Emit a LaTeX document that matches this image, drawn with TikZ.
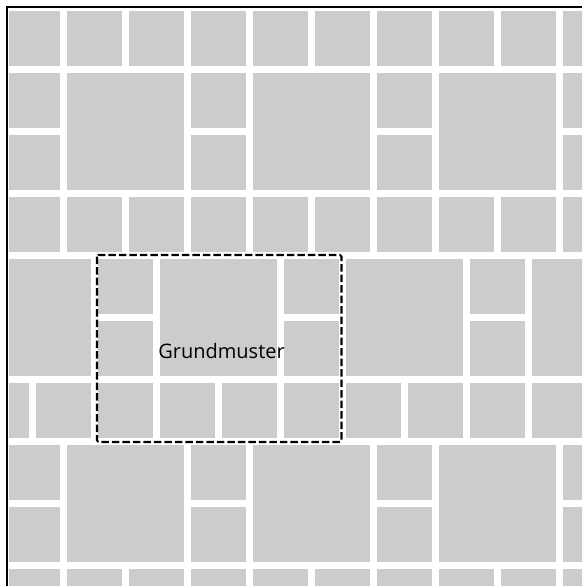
\documentclass[tikz,border=0pt]{standalone}
\usepackage{fontspec}
\setmainfont{Open Sans}
\definecolor{tilegray}{RGB}{204,204,204}
\tikzset{
  tile/.style={fill=tilegray, draw=none},
  frameline/.style={line width=2.4pt, draw=black},
  patternbox/.style={draw=black, line width=2.1pt, dash pattern=on 7.5pt off 3pt, rounded corners=1.5pt},
  labeltext/.style={font=\fontsize{20}{24}\selectfont, inner sep=0pt, anchor=base, text=black}
}
\begin{document}
\begin{tikzpicture}[x=1pt,y=-1pt]
\useasboundingbox (0,0) rectangle (582,586);
\fill[white] (0,0) rectangle (582,586);
\begin{scope}
  \clip (9,9) rectangle (582,586);
  % full rows of small tiles: offset / top
  \foreach \o/\r in {5/11, 5/197, 36/383, 5/569} {
    \foreach \k in {-1,...,9} {
      \fill[tile] ({\o+62*\k},\r) rectangle ++(55,55);
    }
  }
  % mixed bands: small/big alternating
  \foreach \xs/\r in {5/73, 98/259, 5/445} {
    \foreach \k in {-1,...,3} {
      \fill[tile] ({\xs+186*\k},\r) rectangle ++(55,55);
      \fill[tile] ({\xs+186*\k},{\r+62}) rectangle ++(55,55);
      \fill[tile] ({\xs+62+186*\k},\r) rectangle ++(117,117);
    }
  }
\end{scope}
\draw[frameline] (7,586) -- (7,7) -- (582,7);
\draw[patternbox] (97,255) rectangle (341.5,442);
\node[labeltext] (grund) at (221.5,358) {Grundmuster};
\end{tikzpicture}
\end{document}
